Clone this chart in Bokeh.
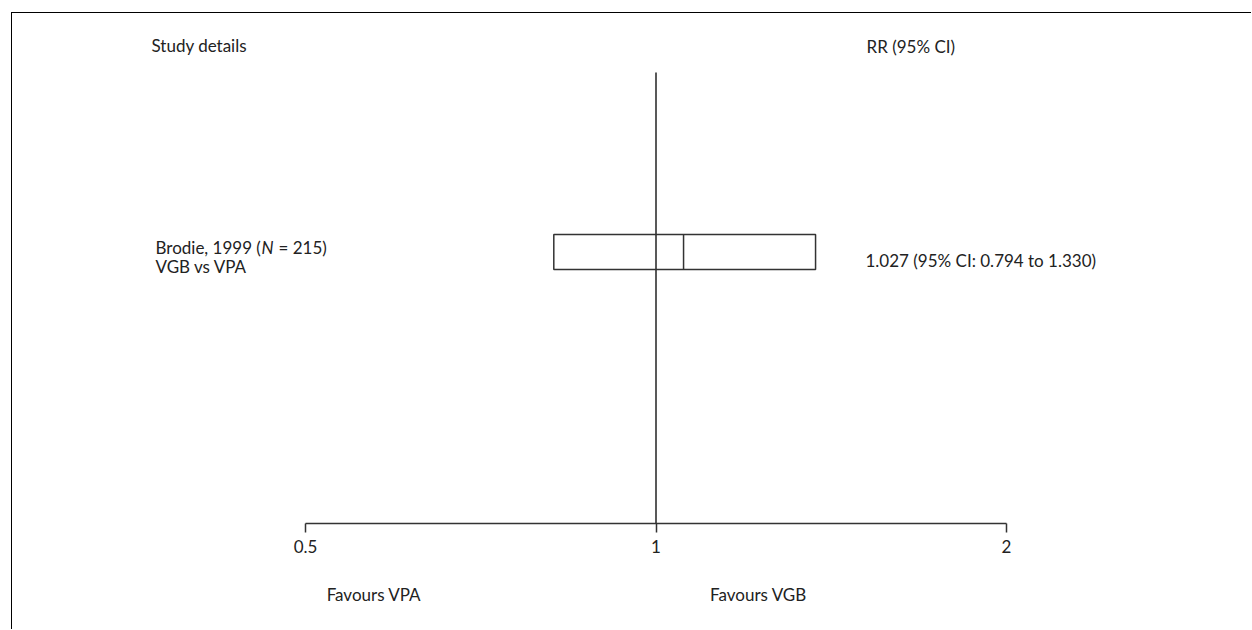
import math
from bokeh.plotting import figure
from bokeh.models import Range1d, FixedTicker, LogAxis
from bokeh.core.properties import value
from bokeh.embed import file_html
from bokeh.resources import INLINE

# ---------------- data ----------------
headers = ["Study details", "RR (95% CI)"]
study_name = ["Brodie, 1999 ("]
study_n_symbol = ["N"]
study_n_rest = ["= 215)"]
study_comparison = ["VGB vs VPA"]
rr_point = [1.027]
rr_ci_low = [0.794]
rr_ci_high = [1.330]
# box extents as drawn in the picture
box_low = [0.817]
box_mid = [1.056]
box_high = [1.371]
axis_ticks = [0.5, 1, 2]
axis_tick_labels = ["0.5", "1", "2"]
favours_labels = ["Favours VPA", "Favours VGB"]

# ---------------- layout helpers ----------------
X0, Y0 = 12, 13          # page position of canvas origin
W, H = 1240, 617
AXIS_Y = 523             # page y of axis line
FONT = "Lato"
FS = "17px"
TXT = "#222222"
LINE = "#333333"


def px2x(px):
    return 2 ** ((px - 655.5) / 350.5)


p = figure(
    width=W, height=H,
    x_axis_type="log",
    x_range=Range1d(px2x(X0), px2x(X0 + W)),
    y_range=Range1d(AXIS_Y, Y0),
    y_axis_location=None,
    output_backend="svg",
    toolbar_location=None,
    min_border_left=0, min_border_right=0, min_border_top=0,
    min_border_bottom=H - (AXIS_Y - Y0),
    background_fill_color="white", border_fill_color="white",
)
p.outline_line_color = None
p.xgrid.visible = False
p.ygrid.visible = False
p.styles = {
    "border-left": "1px solid #000",
    "border-top": "1px solid #000",
    "margin-left": "11px",
    "margin-top": "12px",
    "margin-bottom": "-8px",
}

text_kw = dict(text_font=value(FONT), text_font_size=FS, text_color=TXT,
               text_baseline="alphabetic", text_align="left")

# headers
p.text(x=[px2x(151), px2x(866)], y=[45, 46], text=headers, **text_kw)

# study label
p.text(x=[px2x(155)], y=[246.5], text=study_name, **text_kw)
p.text(x=[px2x(261)], y=[246.5], text=study_n_symbol, text_font_style="italic",
       **text_kw)
p.text(x=[px2x(278)], y=[246.5], text=study_n_rest, **text_kw)
p.text(x=[px2x(155)], y=[266], text=study_comparison, **text_kw)

# result label
res = [f"{a:.3f} (95% CI: {b:.3f} to {c:.3f})"
       for a, b, c in zip(rr_point, rr_ci_low, rr_ci_high)]
p.text(x=[px2x(865)], y=[260], text=res, **text_kw)

# line of no effect
p.segment(x0=[1], x1=[1], y0=[72], y1=[AXIS_Y], line_color="#222222",
          line_width=1.5)

# box and point line
p.quad(left=box_low, right=box_high, top=[234], bottom=[269],
       fill_color=None, line_color=LINE, line_width=1.5)
p.segment(x0=box_mid, x1=box_mid, y0=[234], y1=[269], line_color=LINE,
          line_width=1.5)

# main axis
ax = p.xaxis[0]
ax.ticker = FixedTicker(ticks=axis_ticks, minor_ticks=[])
ax.bounds = (axis_ticks[0], axis_ticks[-1])
ax.major_label_overrides = {t: l for t, l in zip(axis_ticks, axis_tick_labels)}
ax.axis_line_color = LINE
ax.axis_line_width = 1.5
ax.major_tick_line_color = LINE
ax.major_tick_line_width = 1.5
ax.major_tick_out = 9
ax.major_tick_in = 0
ax.minor_tick_line_color = None
ax.major_label_standoff = 7
ax.major_label_text_font = FONT
ax.major_label_text_font_size = FS
ax.major_label_text_color = TXT

# favours axis (labels only)
fav_pos = [round(px2x(373.5), 4), round(px2x(758), 4)]
ax2 = LogAxis(ticker=FixedTicker(ticks=fav_pos, minor_ticks=[]))
ax2.major_label_overrides = {t: l for t, l in zip(fav_pos, favours_labels)}
ax2.axis_line_color = None
ax2.major_tick_line_color = None
ax2.minor_tick_line_color = None
ax2.major_tick_out = 0
ax2.major_tick_in = 0
ax2.major_label_standoff = 28
ax2.major_label_text_font = FONT
ax2.major_label_text_font_size = FS
ax2.major_label_text_color = TXT
p.add_layout(ax2, "below")

open("out.html", "w").write(file_html(p, INLINE))
